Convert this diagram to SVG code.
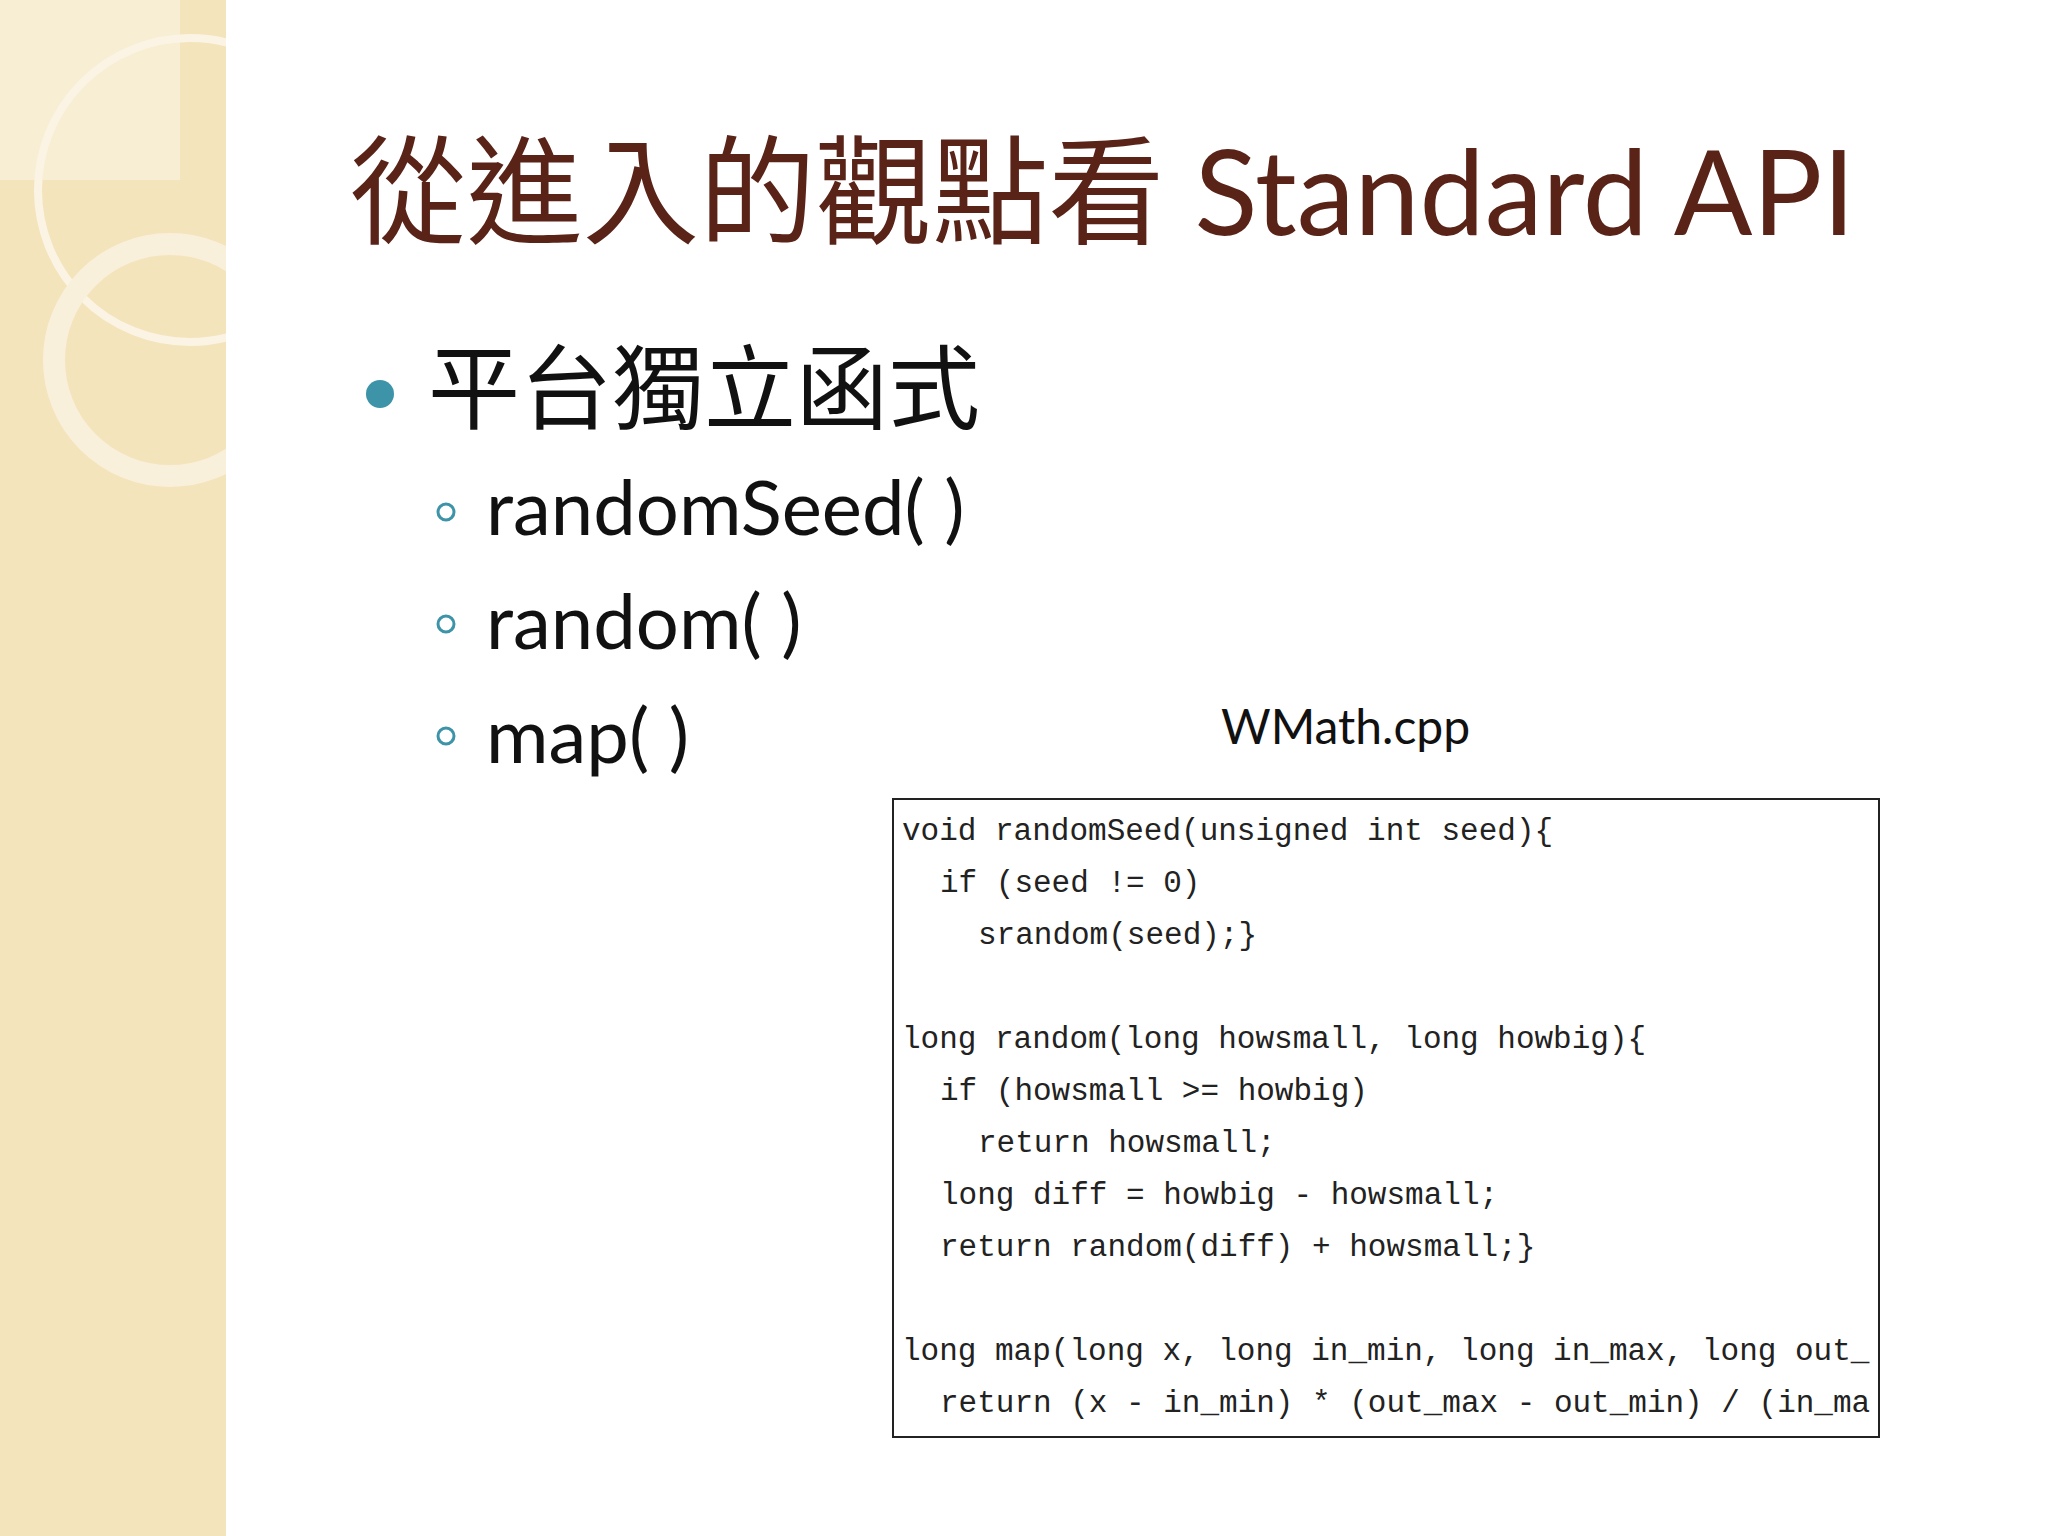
<svg xmlns="http://www.w3.org/2000/svg" width="2048" height="1536" viewBox="0 0 2048 1536">
<style>
.t{font-family:"Lato","Liberation Sans","Noto Sans CJK TC",sans-serif}
.c{font-family:"Liberation Mono",monospace;font-size:31px;fill:#222;white-space:pre}
</style>
<defs>
<clipPath id="bx"><rect x="893" y="799" width="986" height="638"/></clipPath>
<clipPath id="st"><rect x="0" y="0" width="226" height="1536"/></clipPath>
</defs>
<rect width="2048" height="1536" fill="#fff"/>
<g id="strip">
<rect x="0" y="0" width="226" height="1536" fill="#f4e4bc"/>
<g clip-path="url(#st)" fill="none">
<rect x="0" y="0" width="180" height="180" fill="#f8eed4"/>
<circle cx="190" cy="190" r="152" stroke="#fbf4e4" stroke-width="8"/>
<circle cx="170" cy="360" r="116" stroke="#f9f0dc" stroke-width="22"/>
</g>
</g>
<g id="title"><text class="t" x="350" y="235" font-size="118" fill="#5a2318" textLength="1505" lengthAdjust="spacingAndGlyphs">從進入的觀點看 Standard API</text></g>
<g id="bullets">
<circle cx="380" cy="394" r="14" fill="#3d93a8"/>
<text class="t" x="428" y="422" font-size="92" fill="#111">平台獨立函式</text>
<g fill="none" stroke="#3d93a8" stroke-width="3"><circle cx="446" cy="512" r="8"/><circle cx="446" cy="624" r="8"/><circle cx="446" cy="736" r="8"/></g>
<text class="t" x="486" y="535" font-size="76" fill="#111">randomSeed( )</text>
<text class="t" x="486" y="649" font-size="76" fill="#111">random( )</text>
<text class="t" x="486" y="763" font-size="76" fill="#111">map( )</text>
</g>
<g id="label"><text class="t" x="1221" y="744" font-size="48" fill="#111">WMath.cpp</text></g>
<g id="code">
<rect x="893" y="799" width="986" height="638" fill="#fff" stroke="#222" stroke-width="2"/>
<g clip-path="url(#bx)">
<text class="c" x="902" y="840">void randomSeed(unsigned int seed){</text>
<text class="c" x="940" y="892">if (seed != 0)</text>
<text class="c" x="978" y="944">srandom(seed);}</text>
<text class="c" x="902" y="1048">long random(long howsmall, long howbig){</text>
<text class="c" x="940" y="1100">if (howsmall &gt;= howbig)</text>
<text class="c" x="978" y="1152">return howsmall;</text>
<text class="c" x="940" y="1204">long diff = howbig - howsmall;</text>
<text class="c" x="940" y="1256">return random(diff) + howsmall;}</text>
<text class="c" x="902" y="1360">long map(long x, long in_min, long in_max, long out_</text>
<text class="c" x="940" y="1412">return (x - in_min) * (out_max - out_min) / (in_ma</text>
</g>
</g>
</svg>
